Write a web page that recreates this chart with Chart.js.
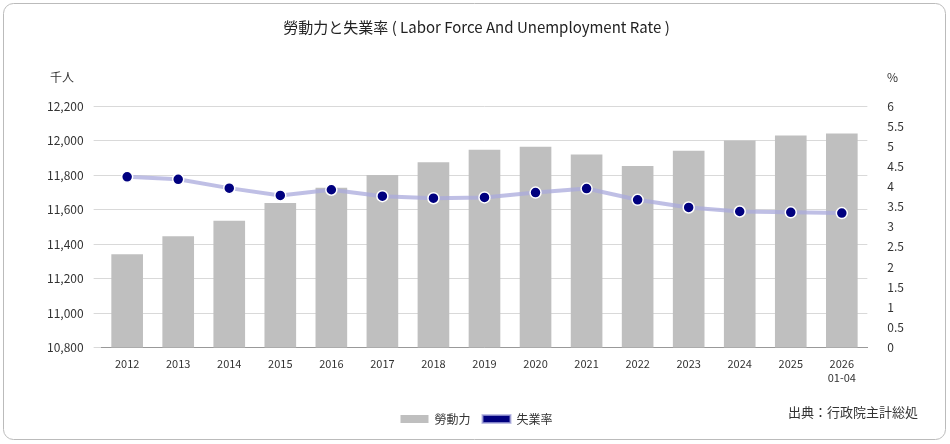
<!DOCTYPE html>
<html>
<head>
<meta charset="utf-8">
<script src="https://cdn.jsdelivr.net/npm/chart.js@4"></script>
<style>
  body { margin: 0; background: #fff; }
  #wrap { width: 950px; height: 444px; }
</style>
</head>
<body>
<div id="wrap"><canvas id="chart"></canvas></div>
<script>
const years = ["2012", "2013", "2014", "2015", "2016", "2017", "2018", "2019", "2020", "2021", "2022", "2023", "2024", "2025", ["2026", "01-04"]];
const laborForce = [11341, 11445, 11535, 11638, 11727, 11800, 11874, 11946, 11964, 11919, 11853, 11941, 12000, 12029, 12041];
const unemploymentRate = [4.24, 4.18, 3.96, 3.78, 3.92, 3.76, 3.71, 3.73, 3.85, 3.95, 3.67, 3.48, 3.38, 3.36, 3.34];

const font = "'Noto Sans CJK JP', 'Noto Sans', sans-serif";
Chart.defaults.font.family = font;
Chart.defaults.color = "#333";

// frame, unit labels and source note
const extras = {
  id: "extras",
  beforeDraw(chart) {
    const c = chart.ctx;
    c.save();
    c.strokeStyle = "#bbb";
    c.lineWidth = 1;
    c.beginPath();
    c.roundRect(3.5, 3.5, 942, 436, 10);
    c.stroke();
    c.restore();
  },
  afterDraw(chart) {
    const c = chart.ctx;
    c.save();
    c.fillStyle = "#333";
    c.font = "12px " + font;
    c.textBaseline = "middle";
    c.textAlign = "left";
    c.fillText("千人", 50, 77);
    c.fillText("%", 887, 77);
    c.font = "13px " + font;
    c.fillText("出典：行政院主計総処", 788, 412);
    c.restore();
  }
};

new Chart(document.getElementById("chart"), {
  data: {
    labels: years,
    datasets: [
      {
        type: "line",
        label: "失業率",
        data: unemploymentRate,
        yAxisID: "y1",
        borderColor: "rgba(170,170,220,0.75)",
        backgroundColor: "#00007f",
        borderWidth: 4,
        pointRadius: 5.5,
        pointBorderColor: "#fff",
        pointBorderWidth: 1.5,
        pointBackgroundColor: "#00007f",
        order: 0
      },
      {
        type: "bar",
        label: "勞動力",
        data: laborForce,
        yAxisID: "y",
        backgroundColor: "#bfbfbf",
        categoryPercentage: 1,
        barPercentage: 0.62,
        order: 1
      }
    ]
  },
  options: {
    responsive: true,
    maintainAspectRatio: false,
    animation: false,
    layout: { padding: { left: 37, right: 34, top: 10, bottom: 9 } },
    plugins: {
      title: {
        display: true,
        text: "勞動力と失業率 ( Labor Force And Unemployment Rate )",
        font: { size: 15, weight: "normal" },
        color: "#222",
        padding: { top: 8, bottom: 70 }
      },
      legend: {
        position: "bottom",
        reverse: true,
        labels: {
          boxWidth: 28,
          boxHeight: 8,
          font: { size: 12 },
          padding: 12,
          generateLabels(chart) {
            const items = Chart.defaults.plugins.legend.labels.generateLabels(chart);
            items.forEach(it => {
              if (it.text === "失業率") {
                it.fillStyle = "#00007f";
                it.strokeStyle = "rgba(170,170,220,0.75)";
                it.lineWidth = 2;
              } else {
                it.lineWidth = 0;
              }
            });
            return items;
          }
        }
      },
      tooltip: { enabled: false }
    },
    scales: {
      x: {
        grid: { display: false },
        border: { color: "#999" },
        ticks: { font: { size: 11 }, maxRotation: 0, autoSkip: false, padding: 2 },
        afterFit(scale) { scale.height += 15; }
      },
      y: {
        position: "left",
        min: 10800,
        max: 12200,
        ticks: { stepSize: 200, font: { size: 12 }, padding: 10, callback: v => v.toLocaleString("en-US") },
        grid: { color: "#d9d9d9" },
        border: { display: false }
      },
      y1: {
        position: "right",
        min: 0,
        max: 6,
        ticks: { stepSize: 0.5, font: { size: 12 }, padding: 12, callback: v => String(v) },
        grid: { display: false },
        border: { display: false }
      }
    }
  },
  plugins: [extras]
});
</script>
</body>
</html>
